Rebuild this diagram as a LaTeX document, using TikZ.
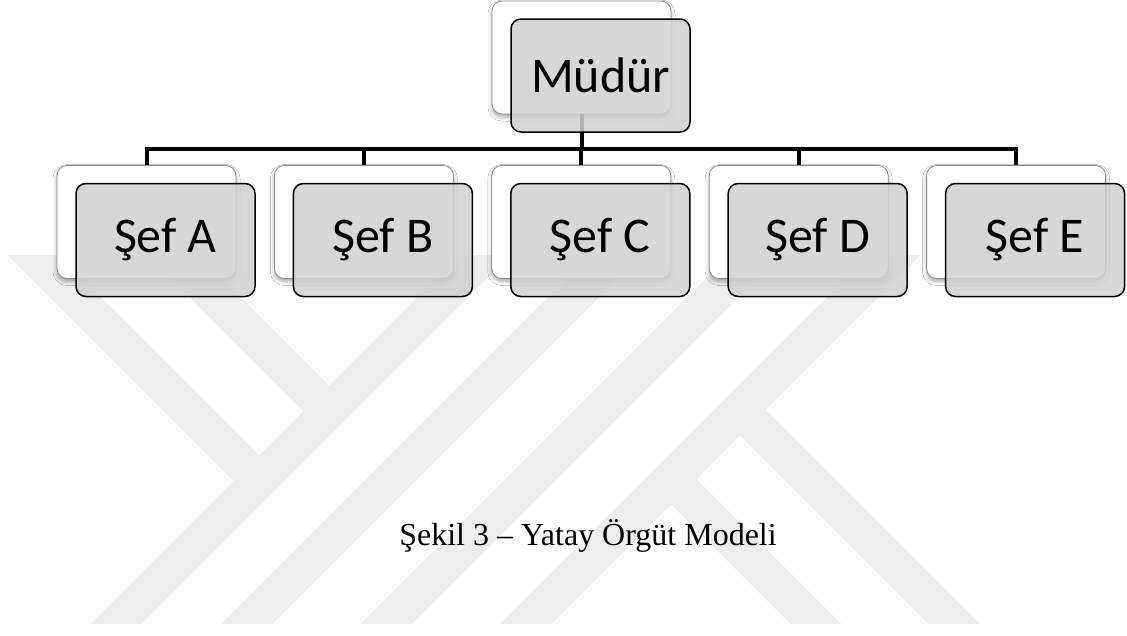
\documentclass[tikz,border=0pt]{standalone}
\usepackage{fontspec}
\setmainfont{Liberation Serif}
\newfontfamily\boxfont{Carlito}
\usetikzlibrary{shadows.blur}

\begin{document}
\begin{tikzpicture}[
  x=1pt, y=-1pt,
  backbox/.style={draw=black!45, line width=0.8pt, fill=white, rounded corners=10pt,
    minimum width=179pt, minimum height=113pt,
    blur shadow={shadow xshift=0pt, shadow yshift=-3pt, shadow blur radius=4pt, shadow opacity=35}},
  frontbox/.style={draw=black, line width=1.5pt, fill=black!18, fill opacity=0.85, text opacity=1,
    rounded corners=10pt, minimum width=179pt, minimum height=113pt,
    font=\boxfont\fontsize{50}{60}\selectfont},
  link/.style={line width=4pt},
  wmband/.style={line width=36pt, draw=black!7},
  node distance=217.4pt
]
\useasboundingbox (0,0) rectangle (1127,635);
\fill[white] (0,0) rectangle (1127,635);

% watermark
\begin{scope}
  \clip (0,255) rectangle (1127,623);
  \draw[wmband] (90,650) -- (500,240);
  \draw[wmband] (221,650) -- (631,240);
  \draw[wmband] (360,650) -- (770,240);
  \draw[wmband] (500,650) -- (910,240);
  \draw[wmband] (18,240) -- (259,481);
  \draw[wmband] (158,240) -- (329,411);
  \draw[wmband] (671,479) -- (842,650);
  \draw[wmband] (740,410) -- (980,650);
\end{scope}

% back boxes
\node[backbox] (backm) at (581.5,57.5) {};
\node[backbox] (backa) at (146.5,222) {};
\node[backbox, right of=backa] (backb) {};
\node[backbox, right of=backb] (backc) {};
\node[backbox, right of=backc] (backd) {};
\node[backbox, right of=backd] (backe) {};

% tree lines
\coordinate (bus) at (0,149);
\draw[link] (backm.south) -- (backm.south |- bus);
\draw[link] (backa.north) -- (backa.north |- bus) -- (backe.north |- bus) -- (backe.north);
\foreach \n in {b,c,d}
  \draw[link] (back\n.north) -- (back\n.north |- bus);

% front boxes
\node[frontbox] (m) at ([shift={(19,18)}]backm) {Müdür};
\foreach \n/\t in {a/A, b/B, c/C, d/D, e/E}
  \node[frontbox] (\n) at ([shift={(19,18)}]back\n) {Şef \t};

\node[font=\fontsize{32}{38}\selectfont, anchor=base] (caption) at (588,545.5) {Şekil 3 – Yatay Örgüt Modeli};
\end{tikzpicture}
\end{document}
